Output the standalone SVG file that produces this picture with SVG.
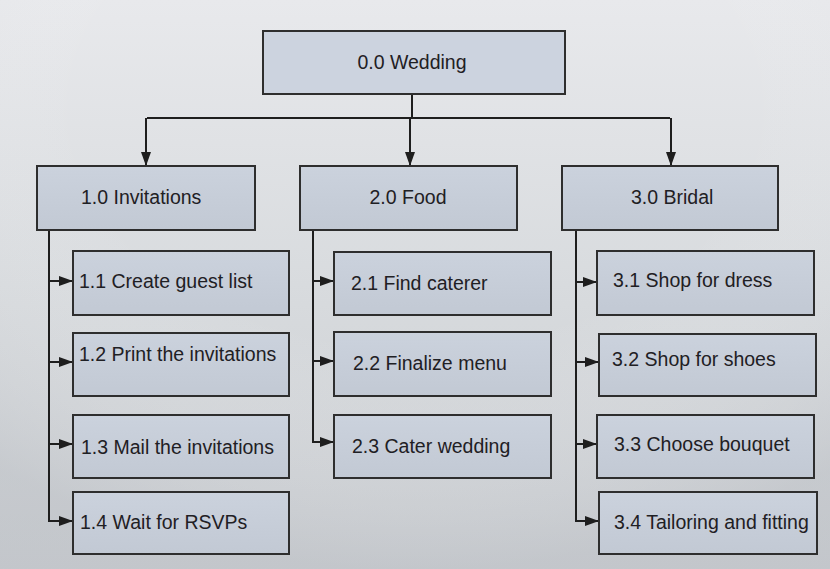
<svg xmlns="http://www.w3.org/2000/svg" width="830" height="569" viewBox="0 0 830 569">
<defs>
<linearGradient id="bg" x1="0" y1="0" x2="0" y2="1">
<stop offset="0" stop-color="#e8e9ec"/>
<stop offset="0.5" stop-color="#d8dbde"/>
<stop offset="1" stop-color="#c9ccd0"/>
</linearGradient>
<radialGradient id="bgv" cx="0.5" cy="0.2" r="0.8">
<stop offset="0.5" stop-color="#ffffff" stop-opacity="0"/>
<stop offset="1" stop-color="#b8bcc2" stop-opacity="0.35"/>
</radialGradient>
<linearGradient id="box" x1="0" y1="0" x2="0" y2="1">
<stop offset="0" stop-color="#cbd2dd"/>
<stop offset="1" stop-color="#c2c9d4"/>
</linearGradient>
<marker id="ah" viewBox="0 0 14 10" refX="14" refY="5" markerWidth="14" markerHeight="10" markerUnits="userSpaceOnUse" orient="auto">
<path d="M0,0 L14,5 L0,10 Z" fill="#1e1e1e"/>
</marker>
<style>
.b{fill:url(#box);stroke:#2e2e2e;stroke-width:2}
.t{font-family:"Liberation Sans",Arial,sans-serif;font-size:19.5px;fill:#1f2024}
.c{text-anchor:middle}
.l{fill:none;stroke:#1e1e1e;stroke-width:2}
</style>
</defs>
<rect width="830" height="569" fill="url(#bg)"/>
<rect width="830" height="569" fill="url(#bgv)"/>

<g id="connectors">
<path class="l" d="M412,94 V118"/>
<path class="l" d="M147,118 H670"/>
<path class="l" d="M146,118 V166" marker-end="url(#ah)"/>
<path class="l" d="M410,118 V166" marker-end="url(#ah)"/>
<path class="l" d="M671,118 V166" marker-end="url(#ah)"/>
<path class="l" d="M49,230 V521"/>
<path class="l" d="M49,281 H73" marker-end="url(#ah)"/>
<path class="l" d="M49,362 H73" marker-end="url(#ah)"/>
<path class="l" d="M49,444 H73" marker-end="url(#ah)"/>
<path class="l" d="M48,521 H73" marker-end="url(#ah)"/>
<path class="l" d="M313,230 V442"/>
<path class="l" d="M313,281 H334" marker-end="url(#ah)"/>
<path class="l" d="M313,361 H334" marker-end="url(#ah)"/>
<path class="l" d="M312,442 H334" marker-end="url(#ah)"/>
<path class="l" d="M576,230 V521"/>
<path class="l" d="M576,282 H597" marker-end="url(#ah)"/>
<path class="l" d="M576,362 H599" marker-end="url(#ah)"/>
<path class="l" d="M576,444 H597" marker-end="url(#ah)"/>
<path class="l" d="M575,521 H599" marker-end="url(#ah)"/>
</g>

<g id="n0"><rect class="b" x="263" y="31" width="302" height="63" style="fill:#ccd3df"/><text class="t c" x="412" y="69">0.0 Wedding</text></g>

<g id="n1"><rect class="b" x="37" y="166" width="218" height="64"/><text class="t" x="81" y="204">1.0 Invitations</text></g>
<g id="n2"><rect class="b" x="300" y="166" width="217" height="64"/><text class="t c" x="408" y="204">2.0 Food</text></g>
<g id="n3"><rect class="b" x="562" y="166" width="216" height="64"/><text class="t" x="631" y="204">3.0 Bridal</text></g>

<g id="n11"><rect class="b" x="73" y="251" width="216" height="64"/><text class="t" x="79" y="288">1.1 Create guest list</text></g>
<g id="n12"><rect class="b" x="73" y="333" width="216" height="63"/><text class="t" x="79" y="361">1.2 Print the invitations</text></g>
<g id="n13"><rect class="b" x="73" y="415" width="216" height="63"/><text class="t" x="81" y="454">1.3 Mail the invitations</text></g>
<g id="n14"><rect class="b" x="73" y="492" width="216" height="62"/><text class="t" x="80" y="529">1.4 Wait for RSVPs</text></g>

<g id="n21"><rect class="b" x="334" y="252" width="217" height="63"/><text class="t" x="351" y="290">2.1 Find caterer</text></g>
<g id="n22"><rect class="b" x="334" y="332" width="217" height="64"/><text class="t" x="353" y="370">2.2 Finalize menu</text></g>
<g id="n23"><rect class="b" x="334" y="415" width="217" height="63"/><text class="t" x="352" y="453">2.3 Cater wedding</text></g>

<g id="n31"><rect class="b" x="597" y="251" width="217" height="64"/><text class="t" x="613" y="287">3.1 Shop for dress</text></g>
<g id="n32"><rect class="b" x="599" y="334" width="217" height="62"/><text class="t" x="612" y="366">3.2 Shop for shoes</text></g>
<g id="n33"><rect class="b" x="597" y="415" width="217" height="63"/><text class="t" x="614" y="451">3.3 Choose bouquet</text></g>
<g id="n34"><rect class="b" x="599" y="492" width="218" height="62"/><text class="t" x="614" y="529">3.4 Tailoring and fitting</text></g>
</svg>
